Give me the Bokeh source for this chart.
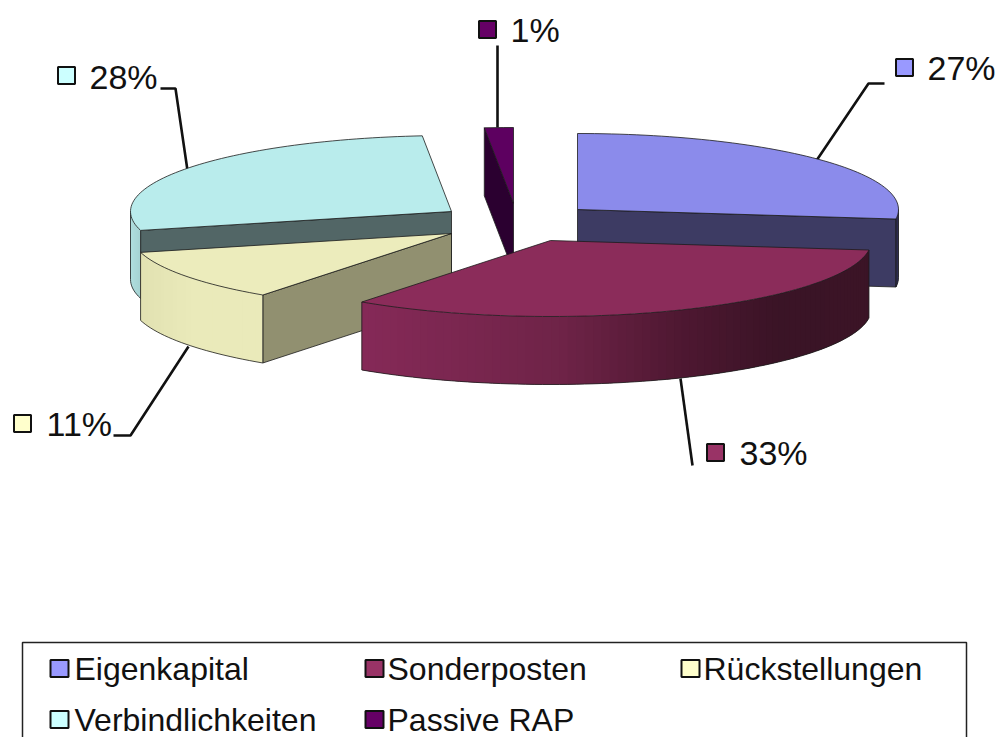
from math import sin, cos, radians
from bokeh.plotting import figure
from bokeh.embed import file_html
from bokeh.resources import INLINE
from bokeh.core.properties import value

# ---- data
categories = ["Eigenkapital", "Sonderposten", "Rückstellungen", "Verbindlichkeiten", "Passive RAP"]
shares = [27.0, 33.0, 11.0, 27.55, 1.45]
pct_labels = ["27%", "33%", "11%", "28%", "1%"]

# ---- colours
top_cols = ["#8B8BEB", "#8B2C5A", "#ECECBC", "#B9ECEC", "#5D0060"]
face_cols = ["#3D3B63", "#451A2D", "#919070", "#526666", "#2B0030"]
key_cols = ["#9999FF", "#993366", "#FFFFCC", "#CCFFFF", "#660066"]
# side gradients: (pixel x, r, g, b)
side_stops = [
    [(570, 0x3D, 0x3B, 0x63), (900, 0x2E, 0x2C, 0x50)],
    [(361, 0x86, 0x2A, 0x58), (560, 0x6F, 0x24, 0x48), (680, 0x4F, 0x18, 0x32), (780, 0x3A, 0x14, 0x26), (868, 0x3C, 0x15, 0x26)],
    [(141, 0xE2, 0xE2, 0xB2), (190, 0xEA, 0xEA, 0xBA), (263, 0xEA, 0xEA, 0xBA)],
    [(130, 0xB0, 0xDE, 0xDE), (141, 0xA4, 0xD2, 0xD2)],
    [(480, 0x2B, 0x00, 0x30), (520, 0x2B, 0x00, 0x30)],
]

# ---- layout
RX, RY, DEPTH = 321, 76, 68
apex = [(577, 209), (550, 240), (451, 233), (451, 211), (513, 203)]
draw_order = [0, 4, 3, 2, 1]
leaders = [
    ([816, 868, 884], [160, 83, 83]),
    ([680, 692], [378, 465]),
    ([188, 130, 113], [346, 435, 435]),
    ([187, 175, 160], [170, 88, 88]),
    ([497, 497], [127, 45]),
]
label_key = [(904, 67), (715, 452), (22, 423), (66, 75), (487, 29)]
label_txt = [(927, 67), (739, 452), (46, 423), (89, 76), (510, 29)]
legend_key = [(59, 668), (374, 668), (690, 668), (59, 719), (374, 719)]
legend_txt = [(74, 668), (387, 668), (703, 668), (74, 719), (387, 719)]

p = figure(width=1000, height=737, x_range=(0, 1000), y_range=(737, 0),
           output_backend="svg", toolbar_location=None,
           min_border=0, outline_line_color=None, background_fill_color="white")
p.axis.visible = False
p.grid.visible = False

EDGE = "#1c1c1c"


def interp(stops, x):
    if x <= stops[0][0]:
        return "#%02x%02x%02x" % tuple(stops[0][1:])
    for a, b in zip(stops, stops[1:]):
        if x <= b[0]:
            t = (x - a[0]) / (b[0] - a[0])
            return "#%02x%02x%02x" % tuple(int(a[i] + t * (b[i] - a[i])) for i in (1, 2, 3))
    return "#%02x%02x%02x" % tuple(stops[-1][1:])


def rim(cx, cy, theta):
    t = radians(theta)
    return cx + RX * sin(t), cy - RY * cos(t)


# leader lines lie beneath the pie
for (lx, ly) in leaders:
    p.line(lx, ly, line_color="#111111", line_width=2.6)

# angular extent of every slice from its share
total = sum(shares)
starts, ends, acc = [], [], 0.0
for s in shares:
    starts.append(acc * 360 / total)
    acc += s
    ends.append(acc * 360 / total)

for i in draw_order:
    cx, cy = apex[i]
    a0, a1 = starts[i], ends[i]

    # cut faces that turn towards the viewer
    for theta, normal in ((a0, a0 - 90), (a1, a1 + 90)):
        if cos(radians(normal)) < -1e-6:
            rx_, ry_ = rim(cx, cy, theta)
            p.patch([cx, rx_, rx_, cx], [cy, ry_, ry_ + DEPTH, cy + DEPTH],
                    fill_color=face_cols[i], line_color=EDGE, line_width=0.8)

    # curved outer wall, only where it faces front; strips overlap to hide seams
    lo, hi = max(a0, 90), min(a1, 270)
    if hi > lo:
        n = max(2, int((hi - lo) / 1.5))
        angles = [lo + (hi - lo) * k / n for k in range(n + 1)]
        sx, sy, sc = [], [], []
        for k in range(n):
            b0, b1 = angles[k], angles[min(k + 2, n)]
            mid = angles[k + 1]
            px = [rim(cx, cy, b)[0] for b in (b0, mid, b1)]
            py = [rim(cx, cy, b)[1] for b in (b0, mid, b1)]
            sx.append(px + px[::-1])
            sy.append(py + [y + DEPTH for y in py[::-1]])
            sc.append(interp(side_stops[i], (px[0] + px[1]) / 2))
        p.patches(sx, sy, fill_color=sc, line_color=None)
        rim_x = [rim(cx, cy, b)[0] for b in angles]
        rim_y = [rim(cx, cy, b)[1] for b in angles]
        p.line(rim_x, [y + DEPTH for y in rim_y], line_color=EDGE, line_width=0.8)
        p.line([rim_x[0]] * 2, [rim_y[0], rim_y[0] + DEPTH], line_color=EDGE, line_width=0.8)
        p.line([rim_x[-1]] * 2, [rim_y[-1], rim_y[-1] + DEPTH], line_color=EDGE, line_width=0.8)

    # top surface
    n = max(2, int((a1 - a0) / 1.5))
    angles = [a0 + (a1 - a0) * k / n for k in range(n + 1)]
    tx = [cx] + [rim(cx, cy, b)[0] for b in angles]
    ty = [cy] + [rim(cx, cy, b)[1] for b in angles]
    p.patch(tx, ty, fill_color=top_cols[i], line_color=EDGE, line_width=0.8)

# percentage labels with their keys
p.rect([c[0] for c in label_key], [c[1] for c in label_key], width=17, height=17,
       fill_color=key_cols, line_color="#111111", line_width=2)
p.text([c[0] for c in label_txt], [c[1] for c in label_txt], text=pct_labels,
       text_font=value("Liberation Sans"), text_font_size=value("34px"),
       text_baseline="middle", text_align="left", text_color="#111111")

# legend box (its lower edge falls off the picture)
p.line([22, 22, 966, 966], [760, 642, 642, 760], line_color="#222222", line_width=1.5)
p.rect([c[0] for c in legend_key], [c[1] for c in legend_key], width=18, height=17,
       fill_color=key_cols, line_color="#111111", line_width=2)
p.text([c[0] for c in legend_txt], [c[1] for c in legend_txt], text=categories,
       text_font=value("Liberation Sans"), text_font_size=value("32px"),
       text_baseline="middle", text_align="left", text_color="#111111")

open("out.html", "w").write(file_html(p, INLINE))
